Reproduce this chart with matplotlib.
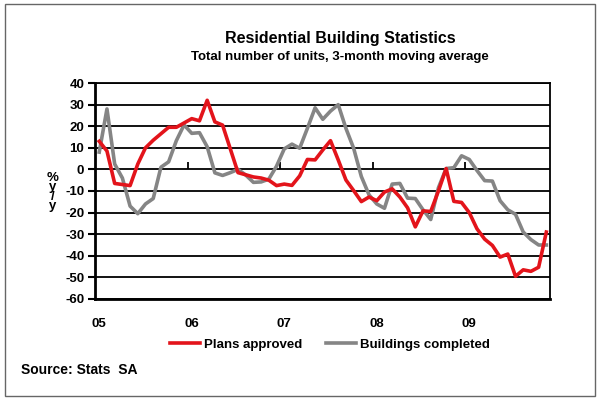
import matplotlib
matplotlib.use("Agg")
import matplotlib.pyplot as plt
from matplotlib.patches import Rectangle

# monthly values, Jan 2005 .. Nov 2009 (% y/y, 3-month moving average)
plans_approved = [13, 8.5, -6.5, -7, -7.5, 2.5, 10, 13.5, 16.5, 19.5, 19.5, 21.5,
                  23.5, 22.5, 32, 22, 20.5, 9.5, -1.5, -2.5, -3.5, -4, -5, -7.5,
                  -6.8, -7.4, -3, 4.6, 4.4, 9, 13.3, 4.4, -4.9, -9.8, -14.9, -12.8,
                  -14.5, -10.5, -9, -12.8, -17.8, -26.6, -19.2, -19.5, -10, 0.4, -14.8, -15.3,
                  -20, -27.5, -32.3, -35.2, -40.6, -39.2, -49.5, -46.5, -47.2, -45.3, -29]
buildings_completed = [8, 28, 2.5, -4, -17, -20.5, -16, -13.5, 1, 3.5, 13.3, 20.6,
                       16.7, 17, 10.5, -1.6, -2.8, -1.5, 0, -2.6, -6, -5.8, -4.5, 1.5,
                       9.5, 11.7, 9.8, 19, 28.5, 23.2, 27, 30, 19, 9.8, -3.3, -11.8,
                       -16, -18, -6.8, -6.5, -13.3, -13.5, -18.7, -23.2, -8.5, 0.4, 0.8, 6.3,
                       4.6, -0.5, -5.2, -5.4, -14.5, -18.7, -20.8, -29, -32.5, -35, -35]
year_labels = ['05', '06', '07', '08', '09']

RED = '#e3141b'
GREY = '#858585'
FONT = 'Liberation Sans'

plt.rcParams['font.family'] = FONT
plt.rcParams['font.weight'] = 'bold'
plt.rcParams['axes.unicode_minus'] = False

fig = plt.figure(figsize=(6, 4.01), dpi=100)
ax = fig.add_axes([0.159, 0.2544, 0.758, 0.5386])

months = list(range(len(plans_approved)))
ax.plot(months, buildings_completed, color=GREY, lw=2.6, zorder=3,
        label='Buildings completed')
ax.plot(months, plans_approved, color=RED, lw=2.6, zorder=4,
        label='Plans approved')

ymin, ymax = -60, 40
ax.set_ylim(ymin, ymax)
ax.set_xlim(-0.5, len(months) - 0.5)
ax.set_yticks(range(ymin, ymax + 1, 10))
ax.yaxis.grid(True, color='black', lw=1.3)
ax.set_axisbelow(True)
ax.tick_params(axis='y', direction='out', length=5, width=1.5, labelsize=9.5, pad=3)

ax.set_xticks([12 * i for i in range(len(year_labels))])
ax.set_xticklabels(year_labels)
ax.tick_params(axis='x', length=0, labelsize=9.5, pad=14)

for s in ['left', 'bottom']:
    ax.spines[s].set_linewidth(2)
for s in ['top', 'right']:
    ax.spines[s].set_linewidth(1.3)

# small year ticks on the zero line
zero_frac = (0 - ymin) / (ymax - ymin)
sec = ax.secondary_xaxis(zero_frac)
sec.set_xticks([12 * i - 0.5 for i in range(1, len(year_labels))])
sec.tick_params(direction='out', length=5, width=1.3, labelbottom=False, labeltop=False)
sec.spines['bottom'].set_visible(False)
sec.spines['top'].set_visible(False)

fig.text(0.087, 0.572, '%\ny\n/\ny', ha='center', va='top', fontsize=9.5,
         linespacing=0.72)

fig.text(0.567, 0.905, 'Residential Building Statistics', ha='center', va='center',
         fontsize=11.5)
fig.text(0.566, 0.858, 'Total number of units, 3-month moving average', ha='center',
         va='center', fontsize=9.5)

handles, labels = ax.get_legend_handles_labels()
leg = fig.legend(handles[::-1], labels[::-1], loc='center', bbox_to_anchor=(0.55, 0.14),
                 ncol=2, frameon=False, fontsize=9.5, handlelength=2.3,
                 handletextpad=0.3, columnspacing=1.8)

fig.text(0.035, 0.077, 'Source: Stats  SA', ha='left', va='center', fontsize=10)

fig.patches.append(Rectangle((0.0083, 0.0125), 0.9834, 0.9775, transform=fig.transFigure,
                             fill=False, ec='#666666', lw=1))

fig.savefig('out.png', dpi=100)
